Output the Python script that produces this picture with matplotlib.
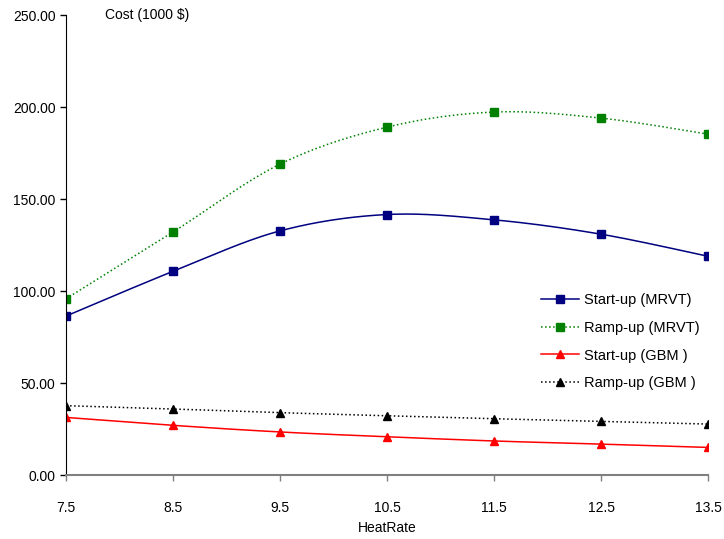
import numpy as np
import matplotlib
matplotlib.use("Agg")
import matplotlib.pyplot as plt

# data
heat_rate = [7.5, 8.5, 9.5, 10.5, 11.5, 12.5, 13.5]
startup_mrvt = [86.4, 110.7, 132.7, 141.6, 138.7, 130.9, 118.9]
rampup_mrvt = [95.8, 132.1, 169.0, 189.1, 197.3, 194.0, 185.3]
startup_gbm = [31.3, 27.0, 23.4, 20.8, 18.5, 16.8, 15.0]
rampup_gbm = [37.7, 35.9, 33.9, 32.2, 30.6, 29.2, 27.7]
y_ticks = [0, 50, 100, 150, 200, 250]


def smooth(x, y, n=30):
    # Excel-like smoothed line (Catmull-Rom bezier) drawn through the points
    x = np.asarray(x, float)
    y = np.asarray(y, float)
    px = np.concatenate([[x[0]], x, [x[-1]]])
    py = np.concatenate([[y[0]], y, [y[-1]]])
    xs, ys = [], []
    t = np.linspace(0, 1, n)
    for i in range(1, len(px) - 2):
        p0 = np.array([px[i], py[i]])
        p3 = np.array([px[i + 1], py[i + 1]])
        p1 = p0 + (np.array([px[i + 1], py[i + 1]]) - np.array([px[i - 1], py[i - 1]])) / 6
        p2 = p3 - (np.array([px[i + 2], py[i + 2]]) - np.array([px[i], py[i]])) / 6
        b = ((1 - t) ** 3)[:, None] * p0 + (3 * (1 - t) ** 2 * t)[:, None] * p1 \
            + (3 * (1 - t) * t ** 2)[:, None] * p2 + (t ** 3)[:, None] * p3
        xs.extend(b[:, 0])
        ys.extend(b[:, 1])
    return xs, ys


plt.rcParams["font.family"] = ["Liberation Sans", "DejaVu Sans"]

fig = plt.figure(figsize=(7.24, 5.39), dpi=100)
ax = fig.add_axes([0.0912, 0.1187, 0.978 - 0.0912, 0.972 - 0.1187])

series = [
    (startup_mrvt, "#000080", "-", "s", "Start-up (MRVT)"),
    (rampup_mrvt, "#008000", ":", "s", "Ramp-up (MRVT)"),
    (startup_gbm, "#ff0000", "-", "^", "Start-up (GBM )"),
    (rampup_gbm, "#000000", ":", "^", "Ramp-up (GBM )"),
]
for vals, col, ls, mk, lab in series:
    sx, sy = smooth(heat_rate, vals)
    ax.plot(sx, sy, color=col, linestyle=ls, linewidth=1.1)
    ax.plot(heat_rate, vals, linestyle="none", marker=mk, color=col, markersize=6)
    ax.plot([], [], color=col, linestyle=ls, linewidth=1.1, marker=mk,
            markersize=6, label=lab)

ax.set_xlim(7.5, 13.5)
ax.set_ylim(0, 250)
ax.set_xticks(heat_rate)
ax.set_xticklabels([str(v) for v in heat_rate])
ax.set_yticks(y_ticks)
ax.set_yticklabels([f"{v:.2f}" for v in y_ticks])
ax.tick_params(axis="both", labelsize=10, length=4, width=1, direction="out")
ax.tick_params(axis="x", pad=15, color="#808080")

for s in ["top", "right"]:
    ax.spines[s].set_visible(False)
ax.spines["left"].set_color("black")
ax.spines["bottom"].set_color("#808080")
ax.spines["bottom"].set_linewidth(1.5)

ax.set_xlabel("HeatRate", fontsize=10, labelpad=4)
ax.text(0.06, 1.0, "Cost (1000 $)", transform=ax.transAxes, fontsize=10,
        ha="left", va="center")

ax.legend(loc="center left", bbox_to_anchor=(0.72, 0.29), frameon=False,
          fontsize=10.5, handlelength=2.6, labelspacing=0.95, handletextpad=0.3)

fig.savefig("out.png", dpi=100)
